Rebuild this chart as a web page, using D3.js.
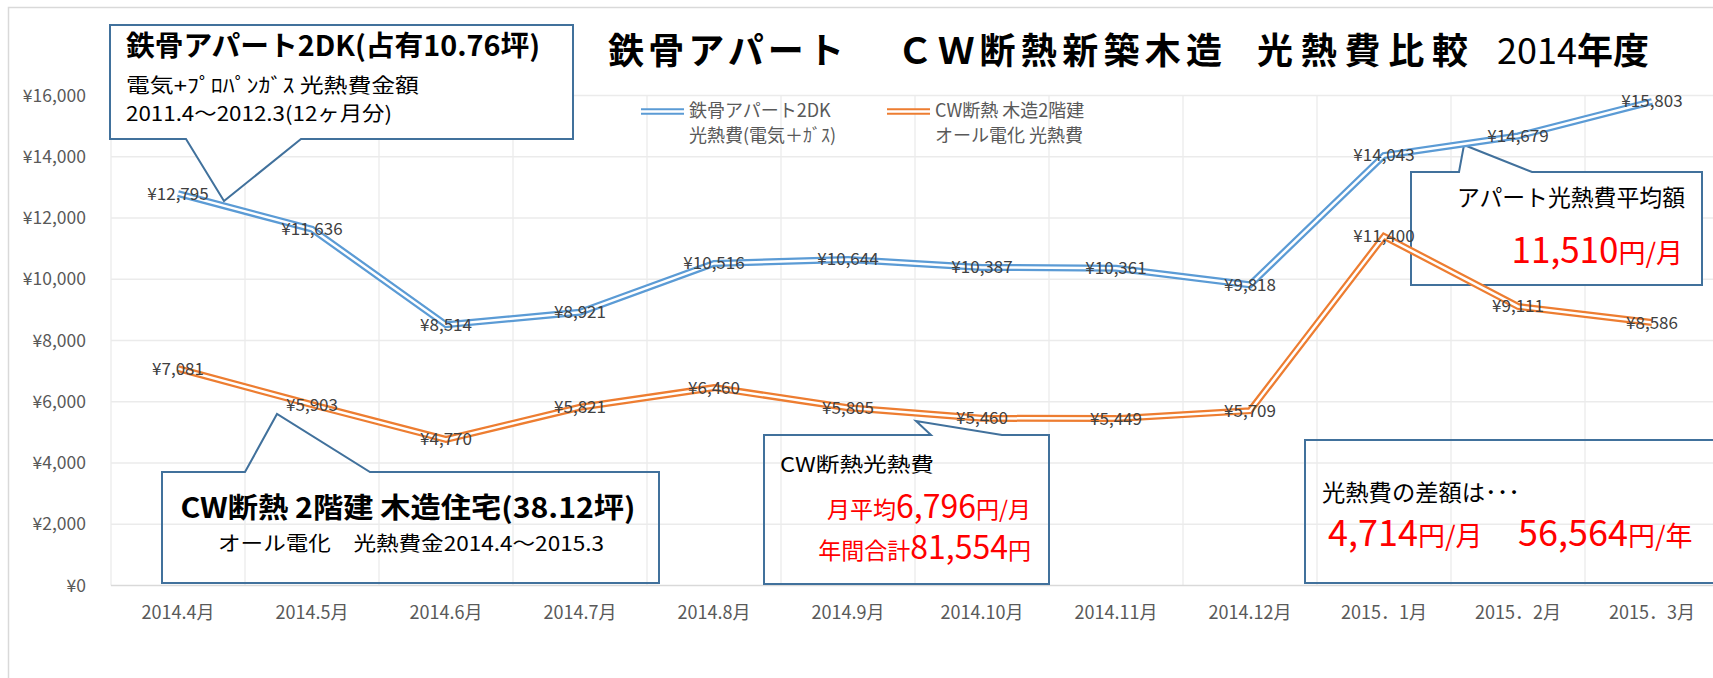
<!DOCTYPE html>
<html>
<head>
<meta charset="utf-8">
<script src="https://cdn.jsdelivr.net/npm/d3@7"></script>
<style>
  body { margin: 0; background: #fff; }
  svg text { font-family: "Noto Sans CJK JP", "Noto Sans", sans-serif; }
</style>
</head>
<body>
<div id="chart"></div>
<script>
// months on the x axis
var months = ["2014.4月", "2014.5月", "2014.6月", "2014.7月", "2014.8月", "2014.9月",
              "2014.10月", "2014.11月", "2014.12月", "2015．1月", "2015．2月", "2015．3月"];
// apartment (steel frame 2DK) monthly cost
var apartment = [12795, 11636, 8514, 8921, 10516, 10644, 10387, 10361, 9818, 14043, 14679, 15803];
// CW insulated wooden house monthly cost
var cwHouse = [7081, 5903, 4770, 5821, 6460, 5805, 5460, 5449, 5709, 11400, 9111, 8586];
var yMax = 16000;
var yStep = 2000;

var width = 1713, height = 678;
var blue = "#5B9BD5", orange = "#ED7D31", boxColor = "#41719C";

var svg = d3.select("#chart")
  .append("svg")
  .attr("width", width)
  .attr("height", height);

// outer chart border (cut off on the right / bottom)
svg.append("rect")
  .attr("x", 8.5).attr("y", 7.5)
  .attr("width", 2000).attr("height", 2000)
  .attr("fill", "#fff")
  .attr("stroke", "#D9D9D9")
  .attr("stroke-width", 1.5);

var x = d3.scaleBand().domain(months).range([111, 1719]);
var y = d3.scaleLinear().domain([0, yMax]).range([585.5, 95.5]);
var fmt = d3.format(",");

// horizontal gridlines
svg.append("g").selectAll("line")
  .data(d3.range(yStep, yMax + 1, yStep))
  .enter().append("line")
  .attr("x1", x.range()[0]).attr("x2", x.range()[1])
  .attr("y1", function(d) { return y(d); })
  .attr("y2", function(d) { return y(d); })
  .attr("stroke", "#EBEBEB").attr("stroke-width", 1.3);

// vertical gridlines between categories
svg.append("g").selectAll("line")
  .data(months)
  .enter().append("line")
  .attr("x1", function(d) { return x(d); })
  .attr("x2", function(d) { return x(d); })
  .attr("y1", y(yMax)).attr("y2", y(0))
  .attr("stroke", "#EBEBEB").attr("stroke-width", 1.3);

// x axis line
svg.append("line")
  .attr("x1", x.range()[0]).attr("x2", x.range()[1])
  .attr("y1", y(0)).attr("y2", y(0))
  .attr("stroke", "#D9D9D9").attr("stroke-width", 1.5);

// y labels
svg.append("g").selectAll("text")
  .data(d3.range(0, yMax + 1, yStep))
  .enter().append("text")
  .attr("x", 86)
  .attr("y", function(d) { return y(d); })
  .attr("dy", "0.35em")
  .attr("text-anchor", "end")
  .attr("font-size", 17.5)
  .attr("fill", "#595959")
  .text(function(d) { return "¥" + fmt(d); });

// x labels
svg.append("g").selectAll("text")
  .data(months)
  .enter().append("text")
  .attr("x", function(d) { return x(d) + x.bandwidth() / 2; })
  .attr("y", 619)
  .attr("text-anchor", "middle")
  .attr("font-size", 18)
  .attr("fill", "#595959")
  .text(function(d) { return d; });

// title
var title = svg.append("text").attr("y", 64).attr("font-size", 36).attr("fill", "#000");
title.append("tspan").attr("x", 608).attr("font-weight", "bold")
  .attr("textLength", 236).attr("lengthAdjust", "spacing").text("鉄骨アパート");
title.append("tspan").attr("x", 897).attr("font-weight", "bold")
  .attr("textLength", 325).attr("lengthAdjust", "spacing").text("ＣＷ断熱新築木造");
title.append("tspan").attr("x", 1257).attr("font-weight", "bold")
  .attr("textLength", 211).attr("lengthAdjust", "spacing").text("光熱費比較");
title.append("tspan").attr("x", 1497).attr("font-weight", "normal").text("2014");
title.append("tspan").attr("font-weight", "bold").text("年度");

// callout shapes
function callout(d, fill) {
  svg.append("path")
    .attr("d", d)
    .attr("fill", fill)
    .attr("stroke", boxColor)
    .attr("stroke-width", 2);
}
function label(txt, x0, y0, size, opts) {
  opts = opts || {};
  var t = svg.append("text")
    .attr("x", x0).attr("y", y0)
    .attr("font-size", size)
    .attr("fill", opts.fill || "#000")
    .attr("font-weight", opts.bold ? "bold" : "normal")
    .attr("text-anchor", opts.anchor || "start")
    .text(txt);
  if (opts.len) t.attr("textLength", opts.len).attr("lengthAdjust", "spacingAndGlyphs");
  return t;
}
function mixed(parts, x0, y0, anchor) {
  var t = svg.append("text").attr("x", x0).attr("y", y0)
    .attr("text-anchor", anchor || "start").attr("fill", "#FF0000");
  parts.forEach(function(p) {
    t.append("tspan").attr("font-size", p[1]).text(p[0]);
  });
  return t;
}

// apartment box (top-left)
callout("M110,25 H573 V139 H301 L224,201 L186,139 H110 Z", "#fff");
label("鉄骨アパート2DK(占有10.76坪)", 126, 56, 28, { bold: true, len: 414 });
label("電気+ﾌﾟﾛﾊﾟﾝｶﾞｽ 光熱費金額", 126, 93, 20, { len: 293 });
label("2011.4～2012.3(12ヶ月分)", 126, 121, 20, { len: 266 });

// CW house box (bottom-left)
callout("M162,472 H245 L277,414 L370,472 H659 V583 H162 Z", "none");
label("CW断熱 2階建 木造住宅(38.12坪)", 408, 518, 28, { bold: true, len: 455, anchor: "middle" });
label("オール電化　光熱費金2014.4～2015.3", 411, 551, 20, { len: 386, anchor: "middle" });

// CW cost box
callout("M764,435 H931 L916,421 L1002,435 H1049 V584 H764 Z", "none");
label("CW断熱光熱費", 780, 472, 20, { len: 154 });
mixed([["月平均", 23], ["6,796", 32], ["円/月", 23]], 1031, 518, "end");
mixed([["年間合計", 23], ["81,554", 32], ["円", 23]], 1031, 559, "end");

// apartment average box
callout("M1411,172 H1459 L1464,145 L1532,172 H1702 V285 H1411 Z", "#fff");
label("アパート光熱費平均額", 1457, 206, 23, { len: 228 });
mixed([["11,510", 35], ["円/月", 27]], 1683, 263, "end");

// difference box
callout("M1305,440 H1740 V583 H1305 Z", "none");
label("光熱費の差額は･･･", 1322, 501, 23, { len: 198 });
mixed([["4,714", 36], ["円/月", 27]], 1328, 546);
mixed([["56,564", 36], ["円/年", 27]], 1518, 546);

// legend
var legendItems = [
  { color: blue, x0: 641, lines: ["鉄骨アパート2DK", "光熱費(電気＋ｶﾞｽ)"] },
  { color: orange, x0: 887, lines: ["CW断熱 木造2階建", "オール電化 光熱費"] }
];
legendItems.forEach(function(it) {
  svg.append("line").attr("x1", it.x0).attr("x2", it.x0 + 43)
    .attr("y1", 111.5).attr("y2", 111.5)
    .attr("stroke", it.color).attr("stroke-width", 6.5);
  svg.append("line").attr("x1", it.x0 - 1).attr("x2", it.x0 + 44)
    .attr("y1", 111.5).attr("y2", 111.5)
    .attr("stroke", "#fff").attr("stroke-width", 2.5);
  it.lines.forEach(function(s, i) {
    svg.append("text")
      .attr("x", it.x0 + 48).attr("y", 117 + i * 25)
      .attr("font-size", 18).attr("fill", "#595959")
      .text(s);
  });
});

// double lines
var line = d3.line()
  .x(function(d, i) { return x(months[i]) + x.bandwidth() / 2; })
  .y(function(d) { return y(d); });

[[apartment, blue], [cwHouse, orange]].forEach(function(s) {
  svg.append("path").attr("d", line(s[0]))
    .attr("fill", "none").attr("stroke", s[1]).attr("stroke-width", 7)
    .attr("stroke-linejoin", "miter");
  svg.append("path").attr("d", line(s[0]))
    .attr("fill", "none").attr("stroke", "#fff").attr("stroke-width", 2.5)
    .attr("stroke-linejoin", "miter");
});

// data labels (centered on the points)
[apartment, cwHouse].forEach(function(vals) {
  svg.append("g").selectAll("text")
    .data(vals)
    .enter().append("text")
    .attr("x", function(d, i) { return x(months[i]) + x.bandwidth() / 2; })
    .attr("y", function(d) { return y(d); })
    .attr("dy", "0.35em")
    .attr("text-anchor", "middle")
    .attr("font-size", 17)
    .attr("fill", "#404040")
    .text(function(d) { return "¥" + fmt(d); });
});
</script>
</body>
</html>
